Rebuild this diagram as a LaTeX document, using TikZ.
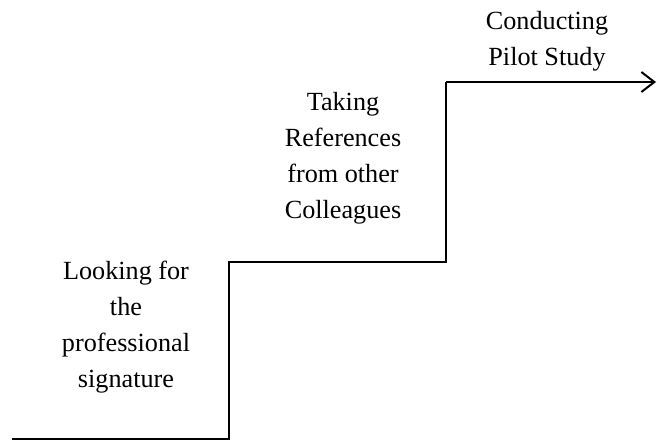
\documentclass[tikz,border=0pt]{standalone}
\usepackage{fontspec}
\setmainfont{Liberation Serif}
\usepackage{tikz}
\usetikzlibrary{arrows.meta}

\tikzset{
  steptext/.style={align=center, inner sep=0pt, font=\fontsize{13.1pt}{18pt}\selectfont},
  stair/.style={line width=1pt, line join=miter}
}

\begin{document}
\begin{tikzpicture}[x=0.5pt, y=-0.5pt]
      \useasboundingbox (0,0) rectangle (657,439);
      \coordinate (s0) at (12,439);
      \coordinate (s1) at (229,439);
      \coordinate (s2) at (229,262);
      \coordinate (s3) at (446,262);
      \coordinate (s4) at (446,82);
      \coordinate (s5) at (656,82);

      \node[steptext] (look) at (126,327.5) {Looking for\\the\\professional\\signature};
      \node[steptext] (refs) at (343,158) {Taking\\References\\from other\\Colleagues};
      \node[steptext] (pilot) at (547,41.5) {Conducting\\Pilot Study};

      \draw[stair] (s0) -- (s1) -- (s2) -- (s3) -- (s4);
      \draw[stair, -{Straight Barb[length=6.5pt, width=10pt]}] (s4) -- (s5);
    \end{tikzpicture}
\end{document}
